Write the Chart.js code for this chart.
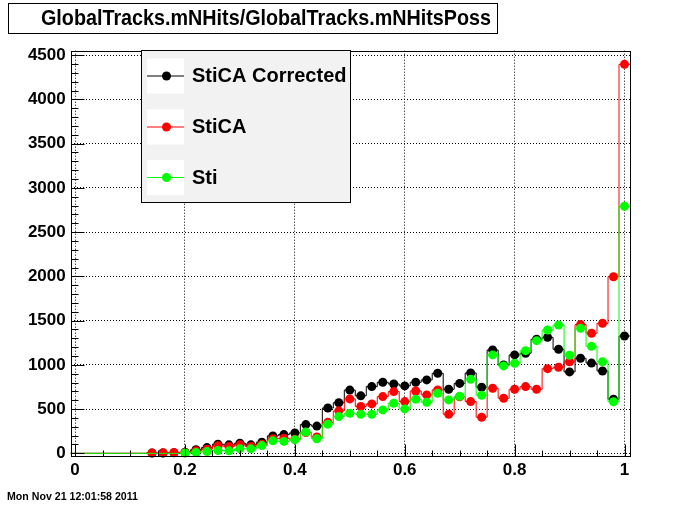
<!DOCTYPE html>
<html>
<head>
<meta charset="utf-8">
<script src="https://cdn.jsdelivr.net/npm/chart.js@4.4.1/dist/chart.umd.min.js"></script>
<style>
  html, body { margin: 0; padding: 0; background: #fff; }
  #c { display: block; }
</style>
</head>
<body>
<canvas id="c" width="700" height="507"></canvas>
<script>
// histogram bin centres (bin width 0.02)
const binCenters = [0, 0.02, 0.04, 0.06, 0.08, 0.1, 0.12, 0.14, 0.16, 0.18,
  0.2, 0.22, 0.24, 0.26, 0.28, 0.3, 0.32, 0.34, 0.36, 0.38,
  0.4, 0.42, 0.44, 0.46, 0.48, 0.5, 0.52, 0.54, 0.56, 0.58,
  0.6, 0.62, 0.64, 0.66, 0.68, 0.7, 0.72, 0.74, 0.76, 0.78,
  0.8, 0.82, 0.84, 0.86, 0.88, 0.9, 0.92, 0.94, 0.96, 0.98, 1.0];
const binWidth = 0.02;

const stiCACorrected = [0, 0, 0, 0, 0, 0, 0, 3, 4, 6,
  12, 40, 65, 104, 96, 115, 96, 126, 197, 212,
  230, 325, 308, 512, 572, 715, 650, 754, 803, 784,
  762, 803, 830, 905, 724, 790, 908, 747, 1168, 999,
  1112, 1131, 1289, 1311, 1176, 920, 1074, 1020, 931, 612, 1326];
const stiCA = [0, 0, 0, 0, 0, 0, 0, 5, 8, 10,
  8, 28, 47, 85, 77, 96, 77, 104, 165, 170,
  160, 235, 185, 350, 480, 615, 530, 559, 641, 698,
  585, 705, 660, 717, 442, 640, 585, 408, 736, 623,
  724, 754, 724, 957, 973, 1035, 1455, 1357, 1469, 1996, 4396];
const sti = [0, 0, 0, 0, 0, 0, 0, 0, 0, 0,
  4, 9, 20, 32, 28, 51, 51, 88, 141, 135,
  155, 240, 165, 330, 415, 453, 442, 442, 491, 566,
  502, 612, 578, 679, 604, 645, 837, 657, 1112, 988,
  1018, 1160, 1273, 1394, 1450, 1108, 1413, 1209, 1035, 583, 2792];

const xTicks = [0, 0.2, 0.4, 0.6, 0.8, 1];
const xTickLabels = ['0', '0.2', '0.4', '0.6', '0.8', '1'];
const yTicks = [0, 500, 1000, 1500, 2000, 2500, 3000, 3500, 4000, 4500];
const yTickLabels = ['0', '500', '1000', '1500', '2000', '2500', '3000', '3500', '4000', '4500'];

const titleText = 'GlobalTracks.mNHits/GlobalTracks.mNHitsPoss';
const dateText = 'Mon Nov 21 12:01:58 2011';
const FONT = '"Liberation Sans", Arial, Helvetica, sans-serif';

// step-histogram points: bin centres plus the two outer edges
function histData(values) {
  const pts = binCenters.map((x, i) => ({ x: x, y: values[i] }));
  pts.unshift({ x: binCenters[0] - binWidth / 2, y: values[0], edge: true });
  pts.push({ x: binCenters[binCenters.length - 1] + binWidth / 2, y: values[values.length - 1], edge: true });
  return pts;
}

function histSet(label, values, color, order) {
  return {
    label: label,
    data: histData(values),
    borderColor: color,
    backgroundColor: color,
    borderWidth: 1,
    stepped: 'middle',
    pointStyle: 'circle',
    pointRadius: c => (c.raw && !c.raw.edge && c.raw.y !== 0) ? 4.5 : 0,
    pointBorderWidth: 0,
    pointHoverRadius: 0,
    clip: { left: 0, right: 0, top: 6, bottom: 6 },
    order: order
  };
}

function fitText(ctx, text, x, y, width) {
  const w = ctx.measureText(text).width;
  ctx.save();
  ctx.translate(x, y);
  ctx.scale(width / w, 1);
  ctx.fillText(text, 0, 0);
  ctx.restore();
}

// ROOT-like frame, inner ticks, title box, legend and date stamp
const rootDecor = {
  id: 'rootDecor',
  beforeDraw(chart) {
    const ctx = chart.ctx;
    ctx.save();
    ctx.fillStyle = '#fff';
    ctx.fillRect(0, 0, chart.width, chart.height);
    ctx.restore();
  },
  afterDraw(chart) {
    const { ctx, chartArea: a } = chart;
    const xs = chart.scales.x, ys = chart.scales.y;
    const L = Math.round(a.left) + 0.5, R = Math.round(a.right) + 0.5;
    const T = Math.round(a.top) + 0.5, B = Math.round(a.bottom) + 0.5;
    ctx.save();
    ctx.strokeStyle = '#000';
    ctx.lineWidth = 1;
    ctx.strokeRect(L, T, R - L, B - T);

    ctx.beginPath();
    for (let k = 0; k <= 20; k++) {
      const v = k * 0.05;
      const px = Math.round(xs.getPixelForValue(v)) + 0.5;
      const len = (k % 4 === 0) ? 12 : 6;
      ctx.moveTo(px, B); ctx.lineTo(px, B - len);
    }
    for (let k = 0; k <= 45; k++) {
      const v = k * 100;
      const py = Math.round(ys.getPixelForValue(v)) + 0.5;
      const len = (k % 5 === 0) ? 13 : 7;
      ctx.moveTo(L, py); ctx.lineTo(L + len, py);
    }
    ctx.stroke();

    // title box
    ctx.fillStyle = '#fff';
    ctx.fillRect(8.5, 3.5, 489, 30);
    ctx.strokeRect(8.5, 3.5, 489, 30);
    ctx.fillStyle = '#000';
    ctx.font = 'bold 22px ' + FONT;
    ctx.textBaseline = 'middle';
    ctx.textAlign = 'left';
    fitText(ctx, titleText, 41, 19, 450);

    // legend
    ctx.fillStyle = '#f2f2f2';
    ctx.fillRect(141.5, 50.5, 209, 152);
    ctx.strokeRect(141.5, 50.5, 209, 152);
    const rows = [75.5, 126.5, 177];
    chart.data.datasets.forEach((ds, i) => {
      const cy = rows[i];
      ctx.fillStyle = '#fff';
      ctx.fillRect(147, cy - 17, 37, 35);
      ctx.strokeStyle = ds.borderColor;
      ctx.beginPath();
      ctx.moveTo(147, cy + 0.5); ctx.lineTo(184, cy + 0.5);
      ctx.stroke();
      ctx.fillStyle = ds.borderColor;
      ctx.beginPath();
      ctx.arc(166.5, cy + 0.5, 4.5, 0, Math.PI * 2);
      ctx.fill();
      ctx.fillStyle = '#000';
      ctx.font = 'bold 20px ' + FONT;
      ctx.fillText(ds.label, 192, cy + 1);
    });

    // date stamp
    ctx.font = 'bold 11px ' + FONT;
    fitText(ctx, dateText, 7, 497, 131);
    ctx.restore();
  }
};

new Chart(document.getElementById('c'), {
  type: 'line',
  data: {
    datasets: [
      histSet('StiCA Corrected', stiCACorrected, '#000000', 3),
      histSet('StiCA', stiCA, '#ff0000', 2),
      histSet('Sti', sti, '#00ff00', 1)
    ]
  },
  options: {
    responsive: false,
    animation: false,
    events: [],
    layout: { padding: { left: 0, top: 50.7, right: 70, bottom: 0 } },
    plugins: { legend: { display: false }, tooltip: { enabled: false } },
    scales: {
      x: {
        type: 'linear',
        min: -0.008,
        max: 1.01,
        afterBuildTicks: s => { s.ticks = xTicks.map(v => ({ value: v })); },
        afterFit: s => { s.height = 51; },
        ticks: {
          autoSkip: false,
          maxRotation: 0,
          padding: 4,
          color: '#000',
          font: { family: FONT, size: 17, weight: 'bold' },
          callback: (v, i) => xTickLabels[i]
        },
        grid: { color: '#000', lineWidth: 1, drawTicks: false },
        border: { display: false, dash: [1, 2] }
      },
      y: {
        type: 'linear',
        min: -30,
        max: 4550,
        afterBuildTicks: s => { s.ticks = yTicks.map(v => ({ value: v })); },
        afterFit: s => { s.width = 70.7; },
        ticks: {
          autoSkip: false,
          padding: 5,
          color: '#000',
          font: { family: FONT, size: 17, weight: 'bold' },
          callback: (v, i) => yTickLabels[i]
        },
        grid: { color: '#000', lineWidth: 1, drawTicks: false },
        border: { display: false, dash: [1, 2] }
      }
    }
  },
  plugins: [rootDecor]
});
</script>
</body>
</html>
